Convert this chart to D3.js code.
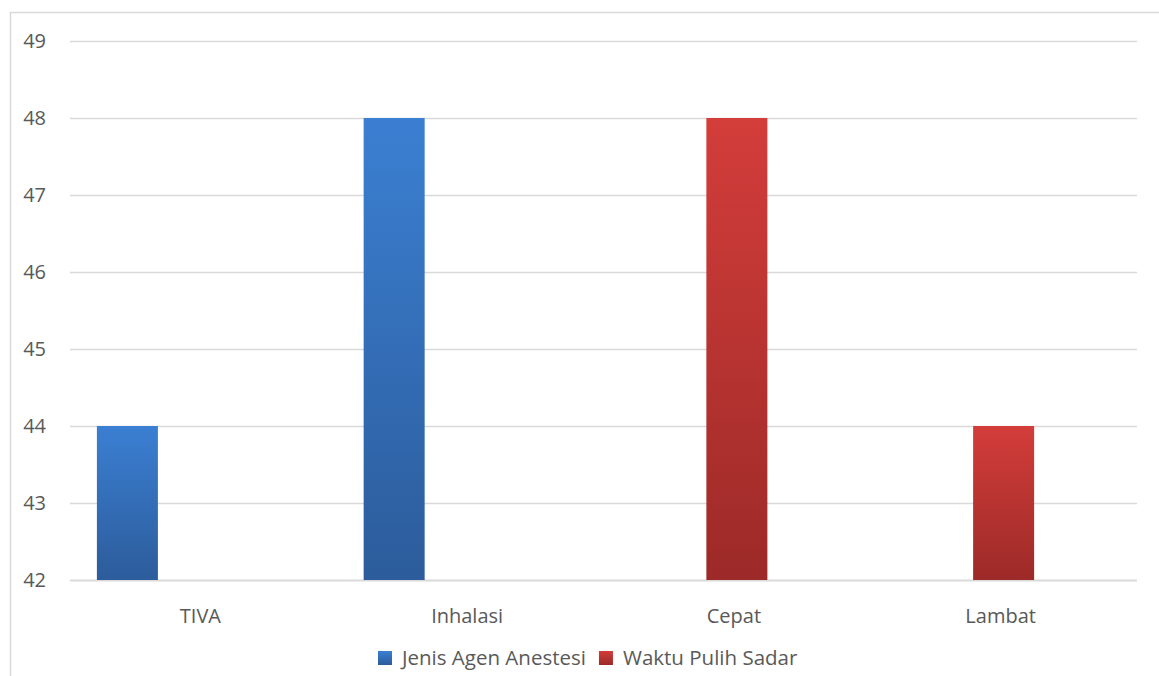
<!DOCTYPE html>
<html>
<head>
<meta charset="utf-8">
<script src="https://cdn.jsdelivr.net/npm/d3@7"></script>
<style>
  html, body { margin: 0; padding: 0; background: #fff; }
  svg { display: block; font-family: "Open Sans", sans-serif; }
</style>
</head>
<body>
<div id="chart"></div>
<script>
// data
var categories = ['TIVA', 'Inhalasi', 'Cepat', 'Lambat'];
var seriesNames = ['Jenis Agen Anestesi', 'Waktu Pulih Sadar'];
var agenValues = [44, 48, null, null];
var waktuValues = [null, null, 48, 44];
var yTicks = [42, 43, 44, 45, 46, 47, 48, 49];

var W = 1159, H = 676;
var margin = { top: 41, right: 22, bottom: 96, left: 70 };
var width = W - margin.left - margin.right,
    height = H - margin.top - margin.bottom;

var svg = d3.select('#chart').append('svg').attr('width', W).attr('height', H);

// gradients for the bars
var defs = svg.append('defs');
var grads = [
  { id: 'g0', top: '#3b7fd2', bottom: '#2c5c9b' },
  { id: 'g1', top: '#d33d3a', bottom: '#9c2a28' }
];
grads.forEach(function (g) {
  var lg = defs.append('linearGradient').attr('id', g.id)
    .attr('x1', 0).attr('y1', 0).attr('x2', 0).attr('y2', 1);
  lg.append('stop').attr('offset', '0%').attr('stop-color', g.top);
  lg.append('stop').attr('offset', '100%').attr('stop-color', g.bottom);
});

// chart frame
svg.append('path')
  .attr('d', 'M10.5,' + H + 'V12.5H' + W)
  .attr('fill', 'none').attr('stroke', '#d9d9d9').attr('stroke-width', 1.5);

var g = svg.append('g').attr('transform', `translate(${margin.left},${margin.top})`);

var y = d3.scaleLinear().domain([42, 49]).range([height, 0]);
var x = d3.scaleBand().domain(categories).range([0, width]);
// three slots per category: blue left, red middle (as in the source chart)
var slot = d3.scaleBand().domain(['s0', 's1', 's2']).range([0, x.bandwidth()])
  .paddingInner(0.197).paddingOuter(0.354);

// grid
g.selectAll('.grid').data(yTicks).enter().append('line')
  .attr('x1', 0).attr('x2', width)
  .attr('y1', d => Math.round(y(d)) + 0.5).attr('y2', d => Math.round(y(d)) + 0.5)
  .attr('stroke', '#d9d9d9').attr('stroke-width', d => d === 42 ? 2 : 1.5);

// y labels
g.selectAll('.ytick').data(yTicks).enter().append('text')
  .attr('x', -24).attr('y', d => y(d)).attr('dy', '0.35em')
  .attr('text-anchor', 'end').attr('font-size', 20).attr('fill', '#595959')
  .text(d => d);

// bars
var barData = [];
categories.forEach(function (c, i) {
  if (agenValues[i] != null) barData.push({ cat: c, v: agenValues[i], s: 0, slot: 's0' });
  if (waktuValues[i] != null) barData.push({ cat: c, v: waktuValues[i], s: 1, slot: 's1' });
});
g.selectAll('.bar').data(barData).enter().append('rect')
  .attr('x', d => x(d.cat) + slot(d.slot))
  .attr('width', slot.bandwidth())
  .attr('y', d => y(d.v))
  .attr('height', d => y(42) - y(d.v))
  .attr('fill', d => 'url(#g' + d.s + ')');

// x labels
g.selectAll('.xlab').data(categories).enter().append('text')
  .attr('x', d => x(d) + x.bandwidth() / 2 - 3)
  .attr('y', height + 43)
  .attr('text-anchor', 'middle').attr('font-size', 20).attr('fill', '#595959')
  .text(d => d);

// legend
var legend = svg.append('g').attr('transform', 'translate(378,651)');
var lx = 0;
seriesNames.forEach(function (name, i) {
  var it = legend.append('g').attr('transform', `translate(${lx},0)`);
  it.append('rect').attr('width', 14).attr('height', 14).attr('fill', 'url(#g' + i + ')');
  var t = it.append('text').attr('x', 24).attr('y', 7).attr('dy', '0.35em')
    .attr('font-size', 20.5).attr('fill', '#595959').text(name);
  lx += 24 + t.node().getComputedTextLength() + 13;
});
</script>
</body>
</html>
